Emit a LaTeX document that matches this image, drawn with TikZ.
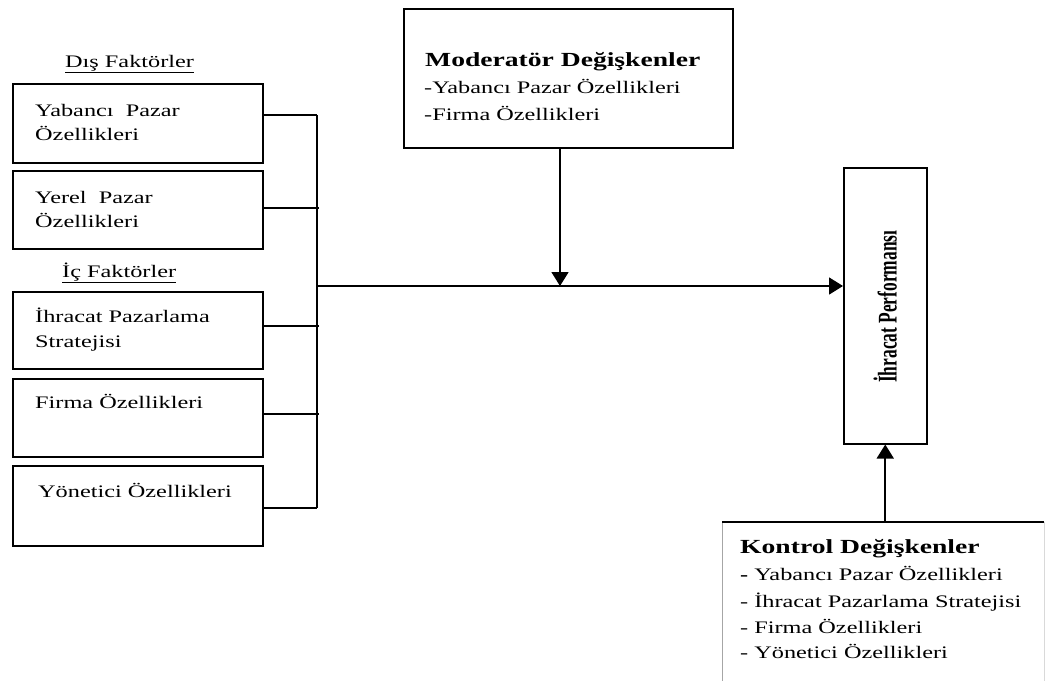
\documentclass[tikz,border=0pt]{standalone}
\usepackage{fontspec}
\setmainfont{Liberation Serif}[FakeStretch=1.38]
\newfontfamily\uprightserif{Liberation Serif}
\usetikzlibrary{arrows.meta}

\tikzset{
  factorbox/.style={draw, line width=1.5pt, minimum width=250pt, minimum height=79pt,
                    inner sep=0pt, anchor=north west},
  txt/.style={anchor=base west, inner sep=0pt, font=\fontsize{17.6}{24}\selectfont},
  title/.style={anchor=base west, inner sep=0pt, font=\fontsize{20}{26}\selectfont\bfseries},
  wire/.style={line width=1.6pt},
  flow/.style={line width=1.6pt, -{Triangle[length=14pt,width=17pt]}},
}

\begin{document}
\begin{tikzpicture}[x=1pt, y=-1pt]
\clip (0,0) rectangle (1046,680);
\fill[white] (0,0) rectangle (1046,680);

% external factors
\node[txt] (dis) at (65,67) {\underline{Dış Faktörler}};
\node[factorbox] (b1) at (12,83) {};
\node[txt] (b1a) at (35,116) {Yabancı\ \ Pazar};
\node[txt] (b1b) at (35,140) {Özellikleri};
\node[factorbox, minimum height=78pt] (b2) at (12,170) {};
\node[txt] (b2a) at (35,203) {Yerel\ \ Pazar};
\node[txt] (b2b) at (35,227) {Özellikleri};

% internal factors
\node[txt] (ic) at (62,277) {\underline{İç Faktörler}};
\node[factorbox, minimum height=77pt] (b3) at (12,291) {};
\node[txt] (b3a) at (35,322) {İhracat Pazarlama};
\node[txt] (b3b) at (35,347) {Stratejisi};
\node[factorbox, minimum height=78pt] (b4) at (12,378) {};
\node[txt] (b4a) at (35,408) {Firma Özellikleri};
\node[factorbox, minimum height=80pt] (b5) at (12,465) {};
\node[txt] (b5a) at (38,497) {Yönetici Özellikleri};

% moderator variables
\node[draw, line width=1.5pt, minimum width=329pt, minimum height=139pt,
      inner sep=0pt, anchor=north west] (mod) at (403,8) {};
\node[title] (modt) at (425,66) {Moderatör Değişkenler};
\node[txt] (mod1) at (424,93) {-Yabancı Pazar Özellikleri};
\node[txt] (mod2) at (424,120) {-Firma Özellikleri};

% outcome
\node[draw, line width=1.5pt, minimum width=83pt, minimum height=276pt,
      inner sep=0pt, anchor=north west] (ihr) at (843,167) {};
\node[rotate=90, inner sep=0pt] (ihrt) at ([yshift=-1pt]ihr.center)
  {\scalebox{1}[1.55]{\uprightserif\fontsize{17.4}{20}\selectfont\bfseries İhracat Performansı}};

% control variables
\draw[line width=1pt, black!35] (722,522) -- (722,690);
\draw[line width=1pt, black!15] (1044,522) -- (1044,690);
\node[minimum width=322pt, minimum height=168pt, inner sep=0pt, anchor=north west] (kon) at (722,522) {};
\draw[line width=1.6pt] (kon.north west) -- (kon.north east);
\node[title] (kont) at (740,553) {Kontrol Değişkenler};
\node[txt] (kon1) at (740,580) {\textbf{-} Yabancı Pazar Özellikleri};
\node[txt] (kon2) at (740,607) {- İhracat Pazarlama Stratejisi};
\node[txt] (kon3) at (740,633) {- Firma Özellikleri};
\node[txt] (kon4) at (740,658) {- Yönetici Özellikleri};

% collecting bus
\coordinate (busT) at (317,115);
\coordinate (busB) at (317,508);
\coordinate (busM) at (317,286);
\coordinate (join) at (560,286);
\draw[wire] (busT) -- (busB);
\draw[wire] (b1.east |- busT) -- (busT);
\draw[wire] (b2.east) ++(0,-2) -- ++(55,0);
\draw[wire] (b3.east) ++(0,-4) -- ++(55,0);
\draw[wire] (b4.east) ++(0,-4) -- ++(55,0);
\draw[wire] (b5.east |- busB) -- (busB);

% flows
\draw[flow] (busM) -- (busM -| ihr.west);
\draw[flow] (mod.south -| join) -- (join);
\draw[flow] (kon.north -| ihr.south) -- (ihr.south);
\end{tikzpicture}
\end{document}
